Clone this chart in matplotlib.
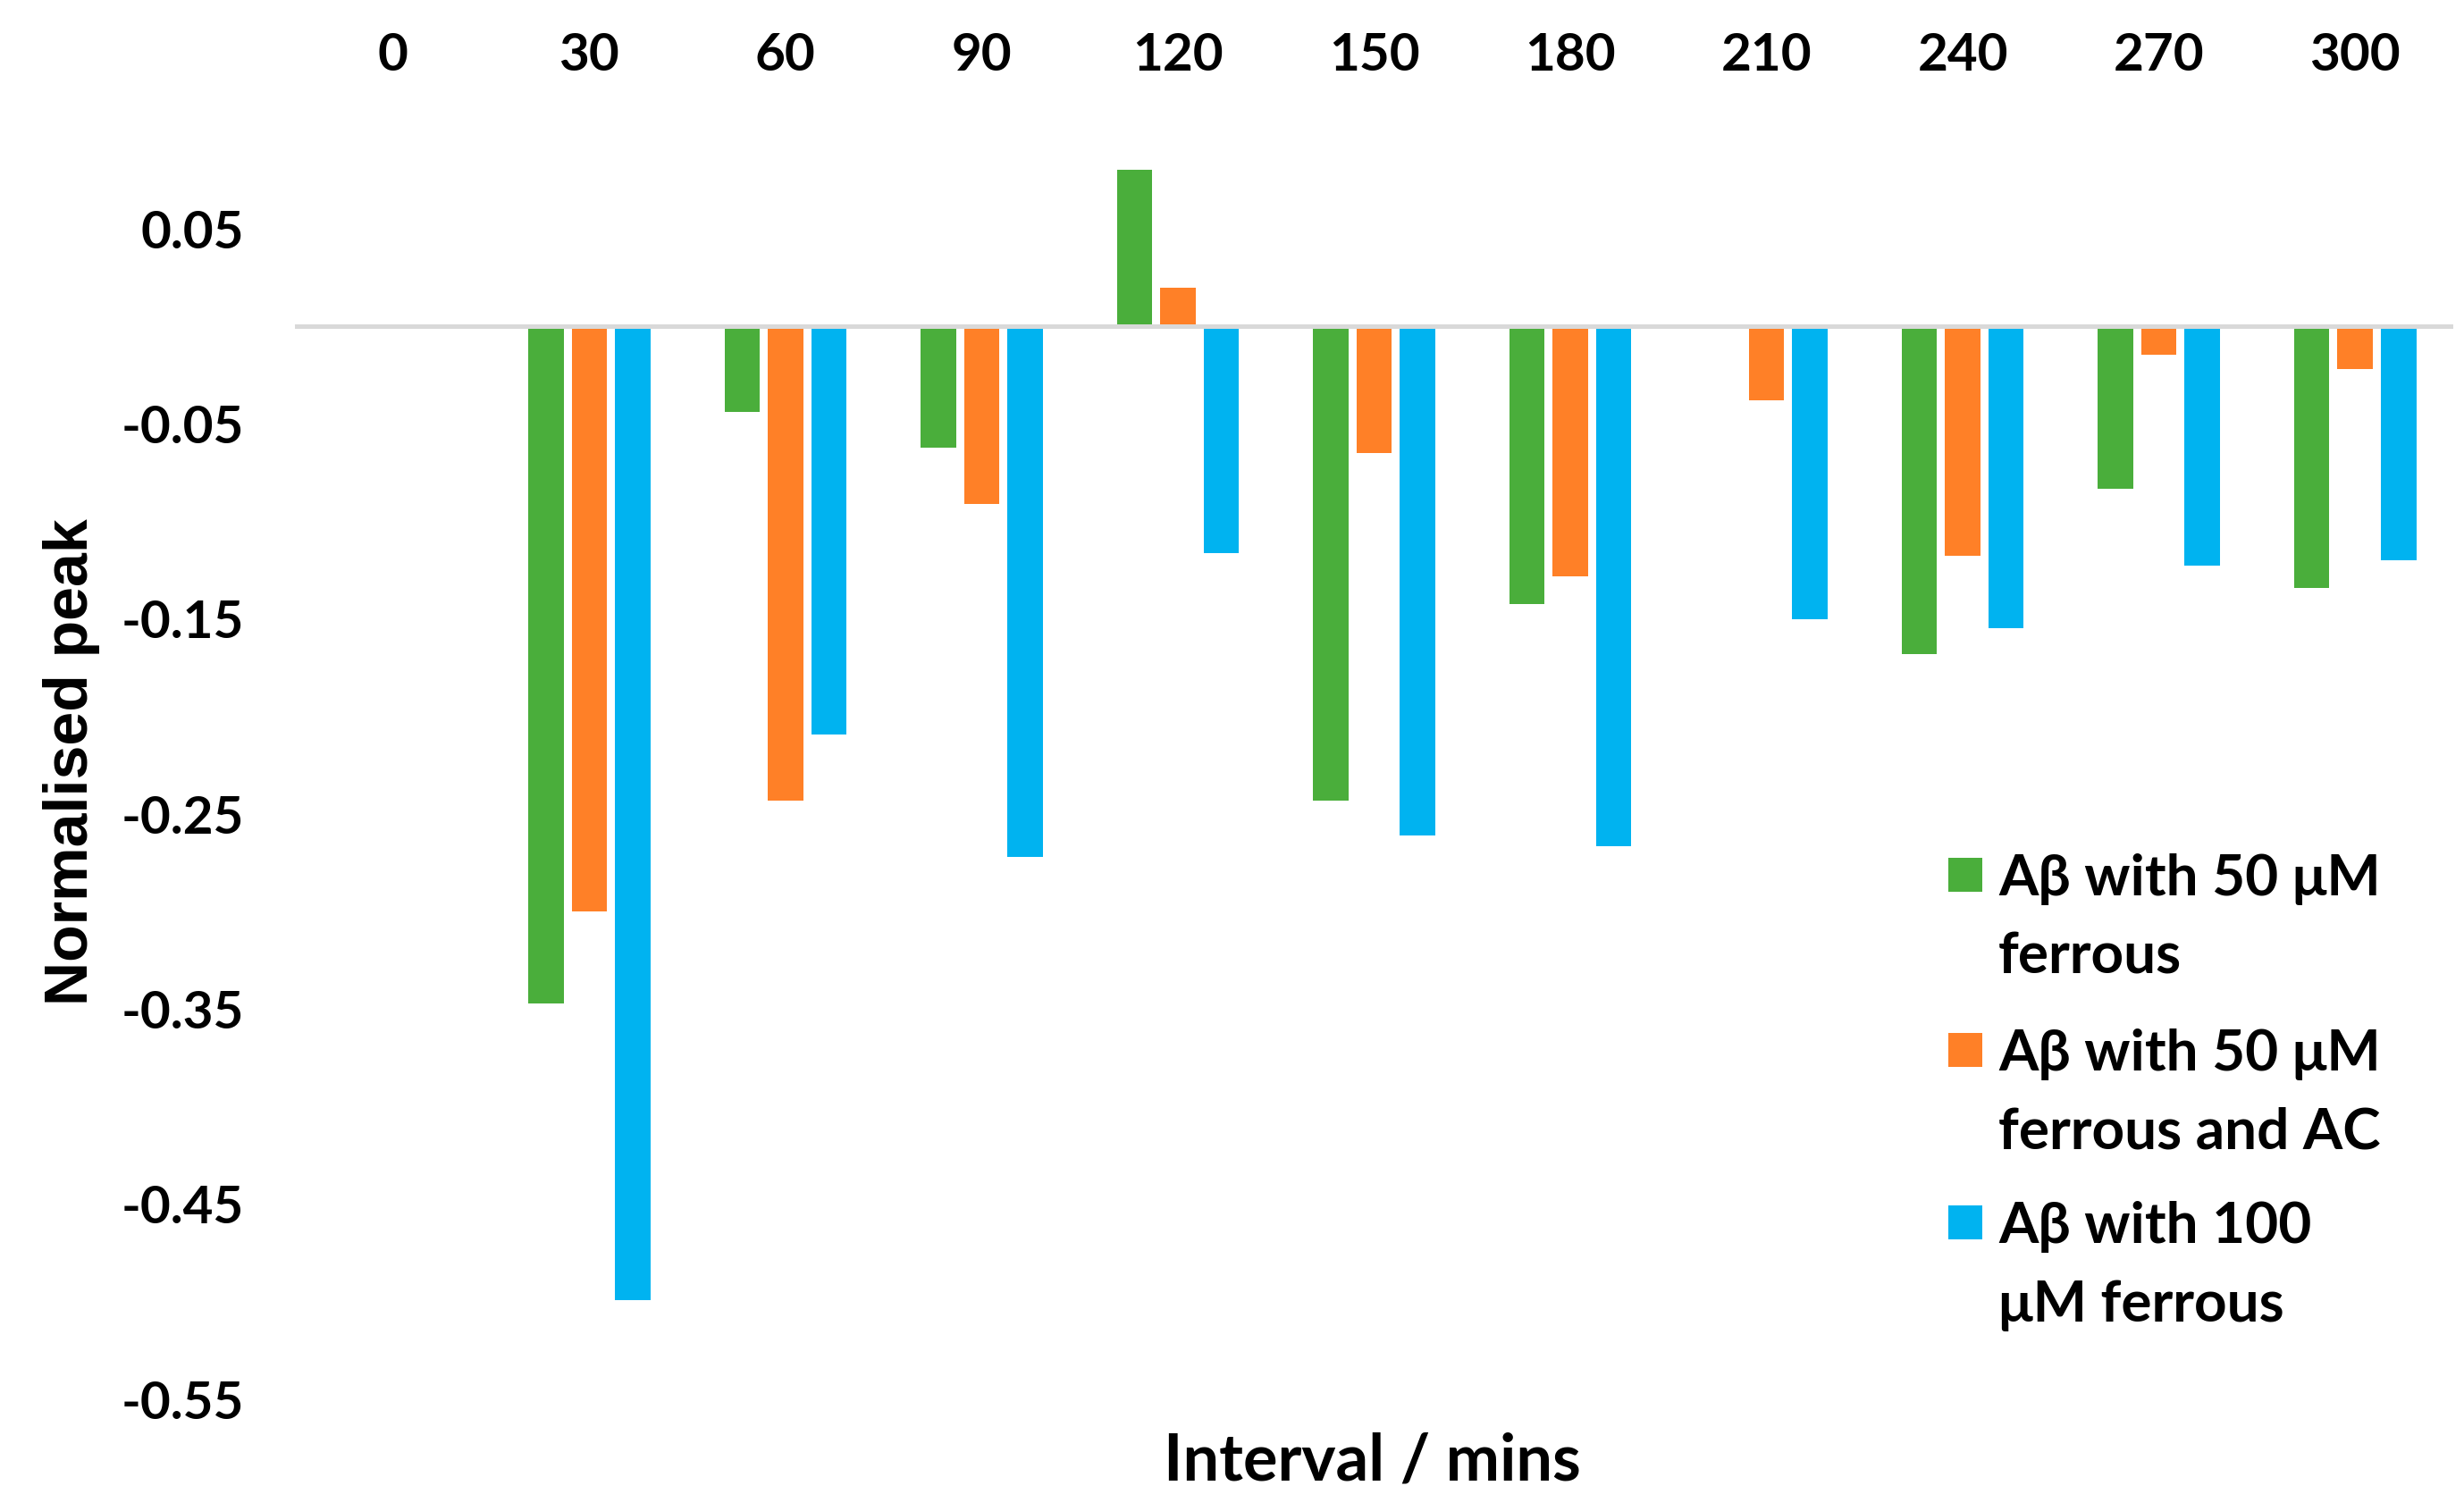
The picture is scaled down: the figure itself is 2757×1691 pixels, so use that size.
import matplotlib
matplotlib.use("Agg")
import matplotlib.pyplot as plt
from matplotlib.patches import Rectangle
import numpy as np

categories = ["0", "30", "60", "90", "120", "150", "180", "210", "240", "270", "300"]
series_names = ["Aβ with 50 μM\nferrous", "Aβ with 50 μM\nferrous and AC", "Aβ with 100\nμM ferrous"]
green_vals = [0.0, -0.347, -0.044, -0.062, 0.0805, -0.243, -0.1425, 0.0, -0.168, -0.083, -0.134]
orange_vals = [0.0, -0.300, -0.243, -0.091, 0.020, -0.065, -0.128, -0.038, -0.1175, -0.0145, -0.0217]
blue_vals = [0.0, -0.499, -0.209, -0.272, -0.116, -0.261, -0.2665, -0.150, -0.1546, -0.1224, -0.120]
yticks = [0.05, -0.05, -0.15, -0.25, -0.35, -0.45, -0.55]
colors = ["#4AAE3B", "#FF8027", "#00B3F0"]

W, H = 2757, 1691
fig = plt.figure(figsize=(W / 100, H / 100), dpi=100)
ax = fig.add_axes([330 / W, 1 - 1566 / H, (2745 - 330) / W, (1566 - 147) / H])

x = np.arange(len(categories))
bw = 0.18
step = 0.221
for i, (vals, c) in enumerate(zip([green_vals, orange_vals, blue_vals], colors)):
    ax.bar(x + (i - 1) * step, vals, width=bw, color=c, zorder=2)

ax.axhline(0, color="#D9D9D9", lw=3.6, zorder=3)
ax.set_xlim(-0.5, len(categories) - 0.5)
ax.set_ylim(-0.55, 0.1)
for s in ax.spines.values():
    s.set_visible(False)

tick_font = dict(family="Lato", weight="bold", size=42)
ax.set_yticks(yticks)
ax.set_yticklabels([f"{v:.2f}" for v in yticks], **tick_font)
ax.set_xticks(x)
ax.set_xticklabels(categories, **tick_font)
ax.tick_params(axis="y", length=0, pad=41)
ax.tick_params(axis="x", length=0, pad=42, top=True, bottom=False, labeltop=True, labelbottom=False)

fig.text(80 / W, 1 - 853 / H, "Normalised peak", rotation=90, ha="center", va="center",
         family="Liberation Sans", weight="bold", size=49)
fig.text(1535 / W, 1 - 1656 / H, "Interval / mins", ha="center", va="baseline",
         family="Lato", weight="bold", size=52)

# legend (square aligned with the first line of each two-line label)
base_y = [1002, 1198, 1391]
line_gap = 88
sq = 38
for name, c, by in zip(series_names, colors, base_y):
    cy = by - 23
    fig.patches.append(Rectangle((2180 / W, 1 - (cy + sq / 2) / H), sq / W, sq / H,
                                 transform=fig.transFigure, facecolor=c, edgecolor="none"))
    for k, line in enumerate(name.split("\n")):
        fig.text(2236 / W, 1 - (by + k * line_gap) / H, line, ha="left", va="baseline",
                 family="Lato", weight="bold", size=46)

fig.savefig("out.png", dpi=100)
